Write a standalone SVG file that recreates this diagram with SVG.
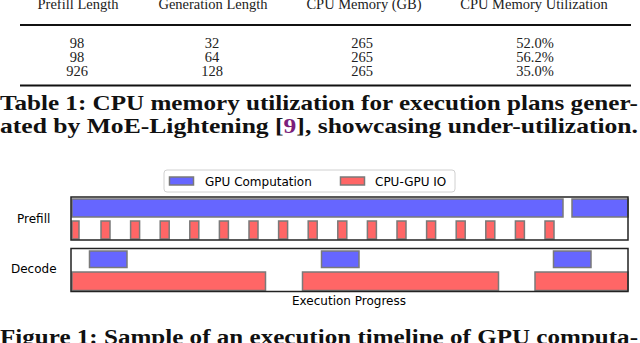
<svg xmlns="http://www.w3.org/2000/svg" width="640" height="343" viewBox="0 0 640 343">
<style>
.tb{font-family:"Liberation Serif",serif;font-size:14.5px;fill:#222;text-anchor:middle}
.cap{font-family:"Liberation Serif",serif;font-size:21px;font-weight:bold;fill:#111}
.lbl{font-family:"DejaVu Sans",Verdana,sans-serif;font-size:12px;fill:#000}
.g{fill:#6666ff;stroke:#7a7a7a;stroke-width:1.5}
.r{fill:#ff6666;stroke:#7a7a7a;stroke-width:1.5}
.frame{fill:none;stroke:#222;stroke-width:1.5}
</style>
<rect width="640" height="343" fill="#fff"/>
<g id="table">
<text class="tb" x="78" y="9">Prefill Length</text>
<text class="tb" x="213" y="9">Generation Length</text>
<text class="tb" x="364" y="9">CPU Memory (GB)</text>
<text class="tb" x="534" y="9">CPU Memory Utilization</text>
<line x1="20" y1="25" x2="631" y2="25" stroke="#111" stroke-width="1.8"/>
<text class="tb" x="77" y="48">98</text><text class="tb" x="212" y="48">32</text><text class="tb" x="362" y="48">265</text><text class="tb" x="535" y="48">52.0%</text>
<text class="tb" x="77" y="62">98</text><text class="tb" x="212" y="62">64</text><text class="tb" x="362" y="62">265</text><text class="tb" x="535" y="62">56.2%</text>
<text class="tb" x="77" y="76">926</text><text class="tb" x="212" y="76">128</text><text class="tb" x="362" y="76">265</text><text class="tb" x="535" y="76">35.0%</text>
<line x1="20" y1="85.5" x2="631" y2="85.5" stroke="#111" stroke-width="2"/>
</g>
<g id="table-caption">
<text class="cap" x="0" y="110" textLength="638" lengthAdjust="spacingAndGlyphs">Table 1: CPU memory utilization for execution plans gener-</text>
<text class="cap" x="0" y="133" textLength="638" lengthAdjust="spacingAndGlyphs">ated by MoE-Lightening [<tspan fill="#7b1f7b">9</tspan>], showcasing under-utilization.</text>
</g>
<g id="legend">
<rect x="164" y="170" width="291" height="22" rx="3" fill="#fff" stroke="#d0d0d0"/>
<rect class="g" x="169.5" y="177" width="24" height="8"/>
<text class="lbl" x="205" y="186">GPU Computation</text>
<rect class="r" x="340.5" y="177" width="24" height="8"/>
<text class="lbl" x="375" y="186">CPU-GPU IO</text>
</g>
<g id="prefill">
<text class="lbl" x="17" y="223">Prefill</text>
<rect class="g" x="72" y="199" width="491" height="18"/>
<rect class="g" x="572" y="199" width="56" height="18"/>
<rect class="r" x="72" y="221" width="7" height="18"/>
<rect class="r" x="101" y="221" width="9" height="18"/>
<rect class="r" x="130.6" y="221" width="9" height="18"/>
<rect class="r" x="160.2" y="221" width="9" height="18"/>
<rect class="r" x="189.8" y="221" width="9" height="18"/>
<rect class="r" x="219.4" y="221" width="9" height="18"/>
<rect class="r" x="249" y="221" width="9" height="18"/>
<rect class="r" x="278.6" y="221" width="9" height="18"/>
<rect class="r" x="308.2" y="221" width="9" height="18"/>
<rect class="r" x="337.8" y="221" width="9" height="18"/>
<rect class="r" x="367.4" y="221" width="9" height="18"/>
<rect class="r" x="397" y="221" width="9" height="18"/>
<rect class="r" x="426.6" y="221" width="9" height="18"/>
<rect class="r" x="456.2" y="221" width="9" height="18"/>
<rect class="r" x="485.8" y="221" width="9" height="18"/>
<rect class="r" x="515.4" y="221" width="9" height="18"/>
<rect class="r" x="545" y="221" width="9" height="18"/>
<rect class="frame" x="71" y="197" width="557" height="43"/>
</g>
<g id="decode">
<text class="lbl" x="11" y="273">Decode</text>
<rect class="g" x="89.5" y="251" width="37.5" height="16.5"/>
<rect class="g" x="321.5" y="251" width="37.5" height="16.5"/>
<rect class="g" x="553.5" y="251" width="37.5" height="16.5"/>
<rect class="r" x="72" y="272" width="193.5" height="18.5"/>
<rect class="r" x="302.5" y="272" width="196" height="18.5"/>
<rect class="r" x="535" y="272" width="93" height="18.5"/>
<rect class="frame" x="71" y="248.5" width="557" height="43"/>
</g>
<g id="axis">
<text class="lbl" x="349" y="305" text-anchor="middle">Execution Progress</text>
</g>
<g id="figure-caption">
<text class="cap" x="0" y="344" textLength="638" lengthAdjust="spacingAndGlyphs">Figure 1: Sample of an execution timeline of GPU computa-</text>
</g>
<g id="connectors"/>
</svg>
